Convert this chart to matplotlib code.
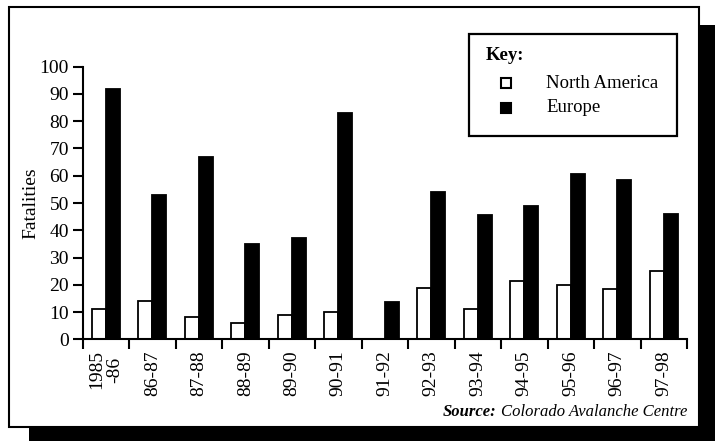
import numpy as np
import matplotlib
matplotlib.use("Agg")
from matplotlib import pyplot as plt
from matplotlib.patches import Rectangle

# seasons and fatalities
seasons = ["1985\n-86", "86-87", "87-88", "88-89", "89-90", "90-91", "91-92",
           "92-93", "93-94", "94-95", "95-96", "96-97", "97-98"]
north_america = [11, 14, 8, 6, 9, 10, 0, 19, 11, 21.5, 20, 18.5, 25]
europe = [92, 53, 67, 35, 37, 83, 13.5, 54, 45.5, 49, 60.5, 58.5, 46]
y_ticks = list(range(0, 101, 10))

W, H = 715, 441
plt.rcParams['font.family'] = ['Liberation Serif', 'DejaVu Serif']


def px(x, y):
    # pixel position (from top-left) -> figure fraction
    return x / W, 1 - y / H


def pxRect(x0, y0, x1, y1, **kw):
    left, top = px(x0, y0)
    return Rectangle((left, top - (y1 - y0) / H), (x1 - x0) / W, (y1 - y0) / H,
                     transform=fig.transFigure, **kw)


fig = plt.figure(figsize=(W / 100, H / 100), dpi=100)

# drop shadow and outer frame
fig.patches.append(pxRect(29, 25, 725, 450, facecolor='black', edgecolor='none', zorder=-3))
fig.patches.append(pxRect(9, 7, 699, 427, facecolor='white', edgecolor='black', lw=1.5, zorder=-2))

ax = fig.add_axes([82.7 / W, 1 - 339.3 / H, (687 - 82.7) / W, (339.3 - 66.7) / H])
ax.patch.set_visible(False)

x = np.arange(len(seasons))
bw = 0.3
ax.bar(x - bw / 2, north_america, bw, color='white', edgecolor='black', lw=1.3)
ax.bar(x + bw / 2, europe, bw, color='black', edgecolor='black', lw=1.3)

ax.set_xlim(-0.5, len(seasons) - 0.5)
ax.set_ylim(0, 100)
ax.set_yticks(y_ticks)
ax.tick_params(axis='y', length=7, width=1.5, labelsize=14, pad=3)
ax.set_xticks(x)
ax.set_xticklabels(seasons, rotation=90, fontsize=14, linespacing=1.05)
ax.tick_params(axis='x', length=0, pad=8)
ax.set_xticks(np.arange(-0.5, len(seasons)), minor=True)
ax.tick_params(axis='x', which='minor', length=7, width=1.5)
for s in ['top', 'right']:
    ax.spines[s].set_visible(False)
for s in ['left', 'bottom']:
    ax.spines[s].set_linewidth(1.5)

ax.set_ylabel("Fatalities", fontsize=14)
ax.yaxis.set_label_coords((39 - 82.7) / (687 - 82.7), 0.5)

# key box
fig.patches.append(pxRect(469, 34, 677, 136, facecolor='white', edgecolor='black', lw=1.6, zorder=2))
fig.text(*px(486, 56), "Key:", fontsize=13.5, fontweight='bold', va='center')
fig.patches.append(pxRect(501, 78, 511, 88, facecolor='white', edgecolor='black', lw=1.5, zorder=3))
fig.patches.append(pxRect(501, 103, 511, 113, facecolor='black', edgecolor='black', lw=1.5, zorder=3))
fig.text(*px(546, 83), "North America", fontsize=13.5, va='center')
fig.text(*px(546, 108), "Europe", fontsize=13.5, va='center')

# source line
src = fig.text(*px(687, 412), "Colorado Avalanche Centre", fontsize=12,
               style='italic', ha='right', va='center')
fig.canvas.draw()
bb = src.get_window_extent()
fig.text((bb.x0 - 4) / W, 1 - 412 / H, "Source:", fontsize=12, style='italic',
         fontweight='bold', ha='right', va='center')

fig.savefig("out.png", dpi=100)
